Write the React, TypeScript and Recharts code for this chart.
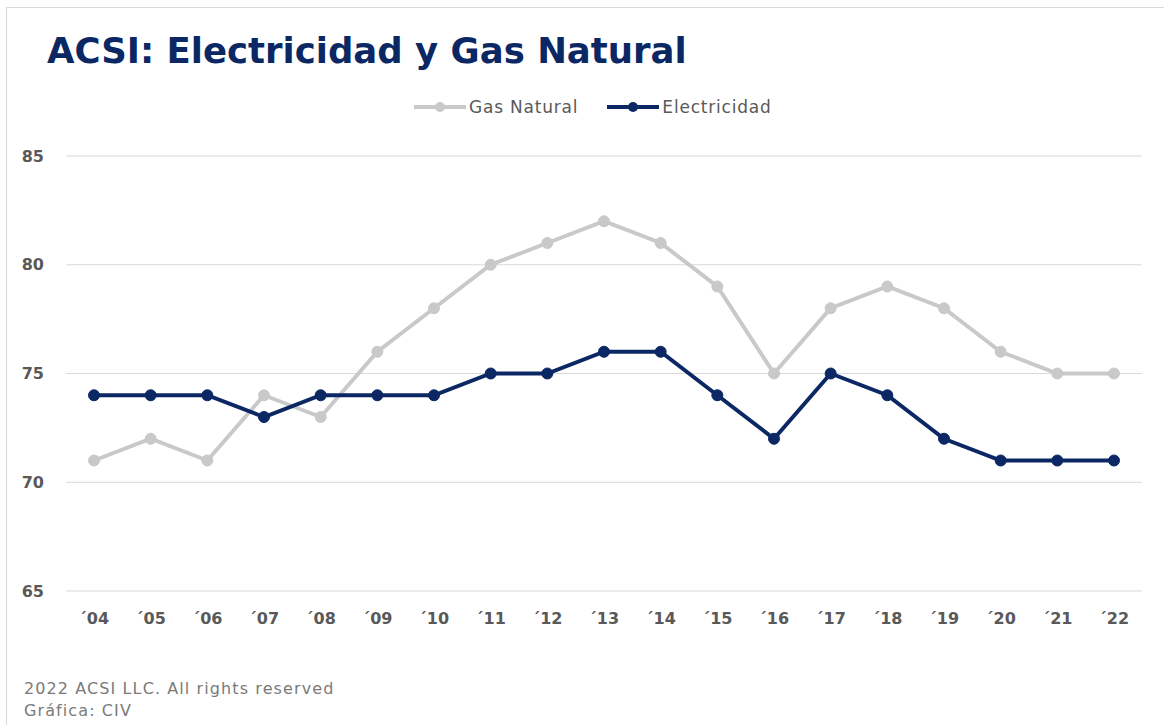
import { CartesianGrid, Line, LineChart, XAxis, YAxis } from "recharts";

const years = ["´04", "´05", "´06", "´07", "´08", "´09", "´10", "´11", "´12", "´13", "´14", "´15", "´16", "´17", "´18", "´19", "´20", "´21", "´22"];
const gasNatural = [71, 72, 71, 74, 73, 76, 78, 80, 81, 82, 81, 79, 75, 78, 79, 78, 76, 75, 75];
const electricidad = [74, 74, 74, 73, 74, 74, 74, 75, 75, 76, 76, 74, 72, 75, 74, 72, 71, 71, 71];
const yTicks = [65, 70, 75, 80, 85];

const NAVY = "#0b2864";
const GRAY = "#c9c9c9";
const TEXT = "#595959";
const FONT = "Tahoma, 'DejaVu Sans', sans-serif";

const series = [
  { key: "gas", name: "Gas Natural", color: GRAY },
  { key: "elec", name: "Electricidad", color: NAVY },
];

const data = years.map((y, i) => ({
  year: y,
  gas: gasNatural[i],
  elec: electricidad[i],
}));

export default function App() {
  return (
    <div style={{ position: "absolute", left: 0, top: 0, width: 1164, height: 725, background: "#fff", overflow: "hidden" }}>
      <div style={{ position: "absolute", left: 6, top: 7, width: 1170, height: 730, border: "1px solid #d9d9d9" }} />
      <div
        style={{
          position: "absolute",
          left: 47,
          top: 30,
          fontFamily: "Verdana, 'DejaVu Sans', sans-serif",
          fontWeight: "bold",
          fontSize: 35.5,
          color: NAVY,
          whiteSpace: "nowrap",
        }}
      >
        ACSI: Electricidad y Gas Natural
      </div>
      <div style={{ position: "absolute", left: 0, top: 0 }}>
        <LineChart width={1164} height={725} data={data} margin={{ top: 156, right: 22, bottom: 104, left: 0 }}>
          <CartesianGrid stroke="#d9d9d9" strokeWidth={1} vertical={false} />
          <XAxis
            dataKey="year"
            axisLine={false}
            tickLine={false}
            padding={{ left: 28, right: 28 }}
            tickMargin={16}
            interval={0}
            tick={{ fill: TEXT, fontSize: 16, fontWeight: "bold", fontFamily: FONT }}
          />
          <YAxis
            width={66}
            domain={[65, 85]}
            ticks={yTicks}
            axisLine={false}
            tickLine={false}
            tickMargin={16}
            tick={{ fill: TEXT, fontSize: 16, fontWeight: "bold", fontFamily: FONT }}
          />
          {series.map((s) => (
            <Line
              key={s.key}
              dataKey={s.key}
              name={s.name}
              stroke={s.color}
              strokeWidth={4}
              dot={{ r: 5.5, fill: s.color, stroke: s.color, strokeWidth: 1 }}
              isAnimationActive={false}
            />
          ))}
        </LineChart>
      </div>
      <div
        style={{
          position: "absolute",
          left: 414,
          top: 97,
          display: "flex",
          gap: 29,
          fontFamily: FONT,
          fontSize: 17,
          letterSpacing: 0.8,
          color: TEXT,
        }}
      >
        {series.map((s) => (
          <div key={s.key} style={{ display: "flex", alignItems: "center" }}>
            <svg width={52} height={14} style={{ marginRight: 3 }}>
              <line x1={0} y1={7} x2={52} y2={7} stroke={s.color} strokeWidth={4} />
              <circle cx={26} cy={7} r={5} fill={s.color} />
            </svg>
            <span>{s.name}</span>
          </div>
        ))}
      </div>
      <div
        style={{
          position: "absolute",
          left: 24,
          top: 678,
          fontFamily: "Verdana, 'DejaVu Sans', sans-serif",
          fontSize: 16,
          letterSpacing: 1.1,
          lineHeight: "22px",
          color: "#7a7a7a",
        }}
      >
        <div>2022 ACSI LLC. All rights reserved</div>
        <div>Gráfica: CIV</div>
      </div>
    </div>
  );
}
